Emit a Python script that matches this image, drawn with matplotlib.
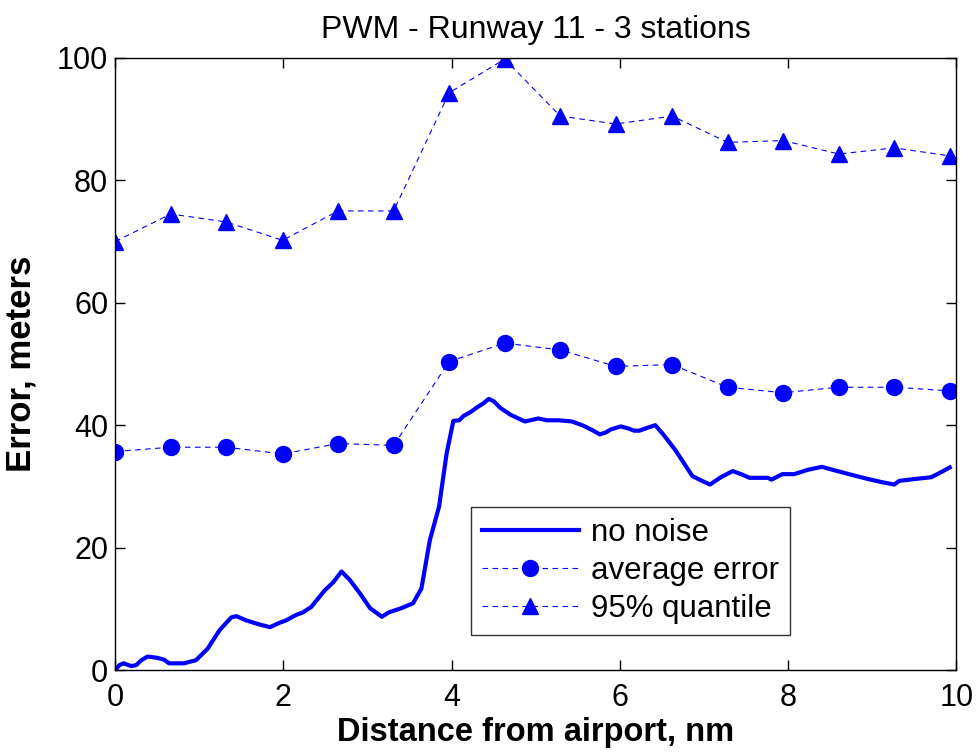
"""
PWM - Runway 11 - 3 stations: error vs. distance from airport
"""
import matplotlib
matplotlib.use('Agg')
import matplotlib.pyplot as plt

plt.rcParams['font.family'] = ['Liberation Sans', 'DejaVu Sans']

# 无噪声误差曲线
dist_no_noise = [0.00, 0.05, 0.10, 0.19, 0.25, 0.31, 0.385, 0.50, 0.58, 0.64, 0.82, 0.96,
                 1.10, 1.24, 1.38, 1.44, 1.56, 1.70, 1.84, 1.95, 2.03, 2.15, 2.23, 2.33,
                 2.49, 2.59, 2.69, 2.79, 2.91, 3.03, 3.17, 3.25, 3.40, 3.54, 3.64, 3.74,
                 3.85, 3.94, 4.02, 4.09, 4.14, 4.22, 4.30, 4.38, 4.44, 4.50, 4.58, 4.70,
                 4.87, 5.03, 5.13, 5.27, 5.43, 5.55, 5.67, 5.76, 5.83, 5.89, 6.01, 6.09,
                 6.17, 6.23, 6.33, 6.42, 6.52, 6.66, 6.76, 6.86, 6.96, 7.07, 7.20, 7.34,
                 7.44, 7.54, 7.76, 7.80, 7.93, 8.07, 8.23, 8.40, 8.53, 8.75, 8.95, 9.11,
                 9.26, 9.32, 9.50, 9.70, 9.80, 9.92]
err_no_noise = [0.0, 0.8, 1.1, 0.65, 0.8, 1.6, 2.2, 2.0, 1.7, 1.1, 1.1, 1.6,
                3.5, 6.5, 8.6, 8.8, 8.1, 7.5, 7.0, 7.7, 8.1, 9.0, 9.4, 10.3,
                13.0, 14.3, 16.1, 14.7, 12.5, 10.1, 8.7, 9.4, 10.1, 10.9, 13.3, 21.2,
                26.7, 35.4, 40.7, 40.8, 41.5, 42.1, 42.9, 43.6, 44.3, 43.9, 42.8, 41.7,
                40.6, 41.1, 40.8, 40.8, 40.6, 40.0, 39.2, 38.5, 38.8, 39.3, 39.8, 39.5,
                39.1, 39.1, 39.6, 40.0, 38.4, 35.9, 33.8, 31.7, 31.0, 30.3, 31.5, 32.5,
                32.0, 31.4, 31.4, 31.1, 32.0, 32.0, 32.7, 33.2, 32.7, 31.9, 31.2, 30.7,
                30.3, 30.9, 31.2, 31.5, 32.2, 33.1]

# 带噪声统计点
dist_stats = [0.00, 0.66, 1.32, 1.99, 2.65, 3.31, 3.97, 4.63, 5.29, 5.95, 6.62, 7.28,
              7.94, 8.60, 9.26, 9.92]
err_average = [35.7, 36.4, 36.4, 35.3, 37.0, 36.7, 50.4, 53.4, 52.3, 49.6, 49.9, 46.2,
               45.3, 46.2, 46.2, 45.6]
err_q95 = [70.0, 74.5, 73.2, 70.2, 75.0, 75.0, 94.3, 99.8, 90.5, 89.2, 90.5, 86.2,
           86.5, 84.3, 85.3, 84.0]

fig = plt.figure(figsize=(9.76, 7.52), dpi=100)
ax = fig.add_axes([0.118, 0.109, 0.862, 0.814])

ax.plot(dist_no_noise, err_no_noise, '-', color='blue', linewidth=3.0, label='no noise')
ax.plot(dist_stats, err_average, '--', color='blue', linewidth=0.8, marker='o',
        markersize=11.5, dashes=(5, 4), label='average error')
ax.plot(dist_stats, err_q95, '--', color='blue', linewidth=0.8, marker='^',
        markersize=12, dashes=(5, 4), label='95% quantile')

ax.set_xlim(0, 10)
ax.set_ylim(0, 100)
ax.set_xticks([0, 2, 4, 6, 8, 10])
ax.set_yticks([0, 20, 40, 60, 80, 100])
ax.tick_params(direction='in', length=7, width=1, top=True, right=True,
               labelsize=22, pad=5)
ax.tick_params(axis='x', pad=9)
for spine in ax.spines.values():
    spine.set_linewidth(1.0)

ax.set_title('PWM - Runway 11 - 3 stations', fontsize=23, pad=14)
ax.set_xlabel('Distance from airport, nm', fontsize=23.5, fontweight='bold', labelpad=3)
ax.set_ylabel('Error, meters', fontsize=25, fontweight='bold', labelpad=14)

leg = ax.legend(loc='lower left', bbox_to_anchor=(0.423, 0.058), fontsize=22.5,
                frameon=True, fancybox=False, edgecolor='black', handlelength=3.1,
                borderpad=0.35, labelspacing=0.25, handletextpad=0.4,
                borderaxespad=0)
leg.get_frame().set_linewidth(1.0)

plt.savefig('out.png', dpi=100)
